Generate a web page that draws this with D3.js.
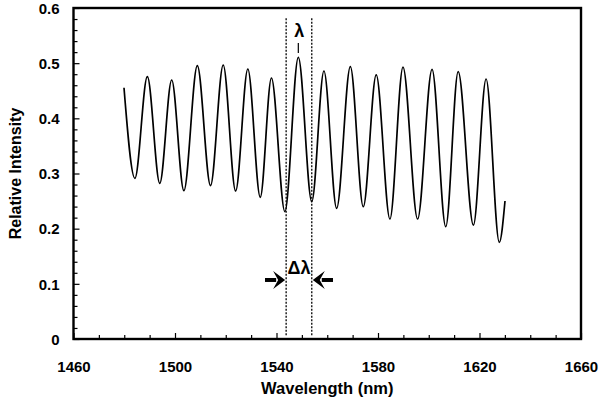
<!DOCTYPE html>
<html><head><meta charset="utf-8">
<script src="https://cdn.jsdelivr.net/npm/d3@7"></script>
<style>
html,body{margin:0;padding:0;background:#fff;}
text{font-family:"Liberation Sans",Arial,sans-serif;font-weight:bold;fill:#000;}
</style></head>
<body>
<svg id="chart" width="600" height="404"></svg>
<script>
// Extrema of the measured spectrum (wavelength nm, relative intensity)
const wavelength = [1479.9,1484.2,1489.1,1494.0,1498.7,1503.5,1508.8,1514.0,1519.0,1523.9,1528.7,1533.6,1538.0,1543.3,1548.6,1553.9,1558.7,1563.7,1569.1,1574.2,1579.3,1584.7,1589.85,1595.6,1601.3,1606.7,1611.6,1617.6,1622.6,1627.8,1630.05];
const intensity  = [0.4555,0.2913,0.4755,0.2822,0.4695,0.2688,0.4954,0.2782,0.4967,0.2683,0.4894,0.2569,0.4731,0.2308,0.5106,0.2489,0.4858,0.2369,0.4936,0.2398,0.4786,0.2175,0.4930,0.2175,0.4888,0.2036,0.4845,0.2066,0.4713,0.1753,0.2502];
const xTicks = [1460,1500,1540,1580,1620,1660];
const yTicks = [0,0.1,0.2,0.3,0.4,0.5,0.6];
const markerLines = [1543.8,1553.9];
const markerRange = [0.007,0.584];
const peakLambda = 1548.6;
const arrowY = 0.107;

const svg = d3.select("#chart");
const L=73.5, R=581, T=8, B=339;
const x = d3.scaleLinear().domain([1460,1660]).range([L,R]);
const y = d3.scaleLinear().domain([0,0.6]).range([B,T]);

// minor ticks
const xMinor = d3.range(1460,1661,10).filter(v=>!xTicks.includes(v));
const yMinor = d3.range(0,0.601,0.02).map(v=>+v.toFixed(2)).filter(v=>!yTicks.includes(v));

svg.append("g").attr("transform",`translate(0,${B})`)
  .call(d3.axisBottom(x).tickValues(xMinor).tickSizeInner(-4).tickSizeOuter(0).tickFormat(""))
  .call(g=>g.select(".domain").remove())
  .selectAll("line").attr("stroke","#000").attr("stroke-width",1.2);
svg.append("g").attr("transform",`translate(${L},0)`)
  .call(d3.axisLeft(y).tickValues(yMinor).tickSizeInner(-4).tickSizeOuter(0).tickFormat(""))
  .call(g=>g.select(".domain").remove())
  .selectAll("line").attr("stroke","#000").attr("stroke-width",1.2);

const gx = svg.append("g").attr("transform",`translate(0,${B})`)
  .call(d3.axisBottom(x).tickValues(xTicks).tickSizeInner(-6).tickSizeOuter(0).tickPadding(0).tickFormat(d3.format("d")));
gx.select(".domain").remove();
gx.selectAll("line").attr("stroke","#000").attr("stroke-width",1.2);
gx.selectAll("text").attr("y",33).attr("dy",0).style("font-size","15px");

const gy = svg.append("g").attr("transform",`translate(${L},0)`)
  .call(d3.axisLeft(y).tickValues(yTicks).tickSizeInner(-6).tickSizeOuter(0).tickPadding(0).tickFormat(d=>d===0?"0":d3.format(".1f")(d)));
gy.select(".domain").remove();
gy.selectAll("line").attr("stroke","#000").attr("stroke-width",1.2);
gy.selectAll("text").attr("x",-14).attr("dy","0.35em").style("font-size","15px");

// frame
svg.append("rect").attr("x",L).attr("y",T).attr("width",R-L).attr("height",B-T)
  .attr("fill","none").attr("stroke","#000").attr("stroke-width",2.4);

// curve
const pts = wavelength.map((w,i)=>[w,intensity[i]]);
svg.append("path").datum(pts)
  .attr("fill","none").attr("stroke","#000").attr("stroke-width",1.7)
  .attr("d",d3.line().x(d=>x(d[0])).y(d=>y(d[1])).curve(d3.curveMonotoneX));

// dashed markers
svg.selectAll(".mk").data(markerLines).enter().append("line")
  .attr("x1",d=>x(d)).attr("x2",d=>x(d))
  .attr("y1",y(markerRange[0])).attr("y2",y(markerRange[1]))
  .attr("stroke","#000").attr("stroke-width",1.3).attr("stroke-dasharray","2,1.5");

// lambda label
svg.append("text").attr("x",x(peakLambda)+1).attr("y",37).attr("text-anchor","middle")
  .style("font-size","18px").text("λ");
svg.append("line").attr("x1",x(peakLambda)).attr("x2",x(peakLambda)).attr("y1",43).attr("y2",53)
  .attr("stroke","#000").attr("stroke-width",1.2);

// delta lambda label and arrows
const xm = (x(markerLines[0])+x(markerLines[1]))/2;
svg.append("text").attr("x",xm).attr("y",274).attr("text-anchor","middle")
  .style("font-size","18px").text("Δλ");
const ay = y(arrowY);
function arrow(x0,x1){
  const dir = Math.sign(x1-x0);
  const head = 12, hw = 9;
  svg.append("line").attr("x1",x0).attr("x2",x1-dir*head+dir*3).attr("y1",ay).attr("y2",ay)
    .attr("stroke","#000").attr("stroke-width",4);
  svg.append("path").attr("d",`M${x1},${ay} L${x1-dir*head},${ay-hw} L${x1-dir*(head-5)},${ay} L${x1-dir*head},${ay+hw} Z`)
    .attr("fill","#000");
}
arrow(265, x(markerLines[0])-1);
arrow(333, x(markerLines[1])+1);

// axis titles
svg.append("text").attr("x",(L+R)/2).attr("y",394).attr("text-anchor","middle")
  .style("font-size","16.5px").text("Wavelength (nm)");
svg.append("text").attr("transform",`translate(21,${(T+B)/2}) rotate(-90)`).attr("text-anchor","middle")
  .style("font-size","16px").text("Relative Intensity");
</script>
</body></html>
